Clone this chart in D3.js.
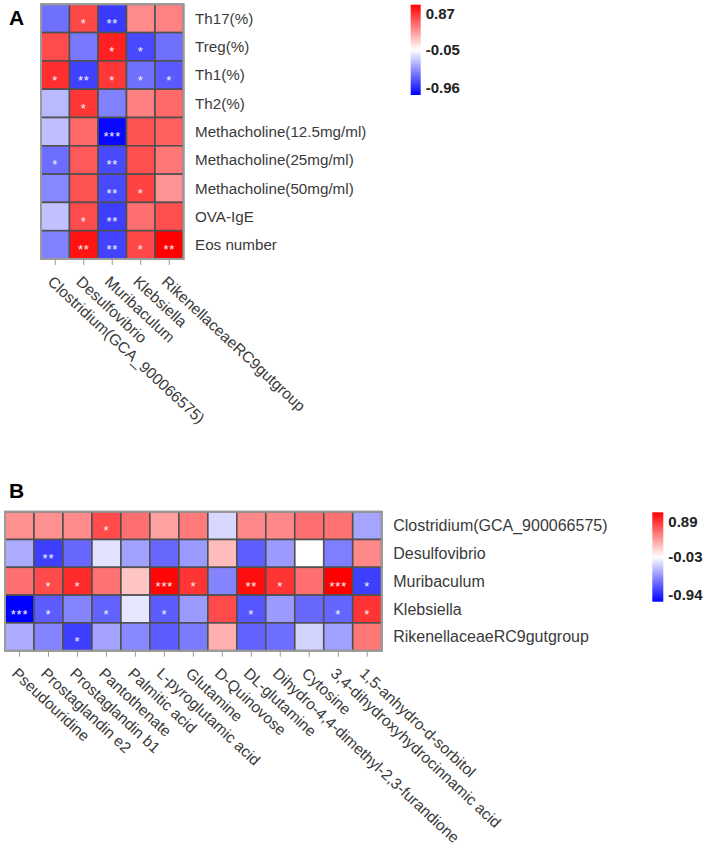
<!DOCTYPE html>
<html><head><meta charset="utf-8">
<script src="https://cdn.jsdelivr.net/npm/d3@7/dist/d3.min.js"></script>
<style>
body{margin:0;background:#fff}
svg{display:block}
text{font-family:"Liberation Sans",Arial,sans-serif}
</style>
</head><body>
<svg id="chart" width="706" height="851"></svg>
<script>
// ---------- Panel A data ----------
const aRows = ["Th17(%)","Treg(%)","Th1(%)","Th2(%)","Methacholine(12.5mg/ml)","Methacholine(25mg/ml)","Methacholine(50mg/ml)","OVA-IgE","Eos number"];
const aCols = ["Clostridium(GCA_900066575)","Desulfovibrio","Muribaculum","Klebsiella","RikenellaceaeRC9gutgroup"];
const aValues = [
  [-0.56, 0.61, -0.75, 0.37, 0.40],
  [ 0.60,-0.53,  0.75,-0.70,-0.56],
  [ 0.70,-0.73,  0.67,-0.56,-0.64],
  [-0.30, 0.67, -0.50, 0.41, 0.49],
  [-0.28, 0.49, -0.93, 0.57, 0.52],
  [-0.57, 0.55, -0.70, 0.59, 0.44],
  [-0.48, 0.57, -0.70, 0.63, 0.34],
  [-0.27, 0.60, -0.74, 0.47, 0.59],
  [-0.50, 0.80, -0.72, 0.61, 0.87]
];
const aStars = [
  ["","*","**","",""],
  ["","","*","*",""],
  ["*","**","*","*","*"],
  ["","*","","",""],
  ["","","***","",""],
  ["*","","**","",""],
  ["","","**","*",""],
  ["","*","**","",""],
  ["","**","**","*","**"]
];
const aScaleStops = [-0.96, -0.05, 0.87];
const aLegendLabels = ["0.87","-0.05","-0.96"];

// ---------- Panel B data ----------
const bRows = ["Clostridium(GCA_900066575)","Desulfovibrio","Muribaculum","Klebsiella","RikenellaceaeRC9gutgroup"];
const bCols = ["Pseudouridine","Prostaglandin e2","Prostaglandin b1","Pantothenate","Palmitic acid","L-pyroglutamic acid","Glutamine","D-Quinovose","DL-glutamine","Dihydro-4,4-dimethyl-2,3-furandione","Cytosine","3,4-dihydroxyhydrocinnamic acid","1,5-anhydro-d-sorbitol"];
const bValues = [
  [ 0.37, 0.37, 0.39, 0.62, 0.49, 0.31, 0.45,-0.17, 0.40, 0.40, 0.49, 0.48,-0.35],
  [-0.33,-0.72,-0.57,-0.13,-0.37,-0.57,-0.39, 0.21,-0.60,-0.39,-0.03,-0.49, 0.40],
  [ 0.49, 0.62, 0.74, 0.48, 0.18, 0.87, 0.70,-0.47, 0.84, 0.70, 0.49, 0.89,-0.72],
  [-0.94,-0.61,-0.47,-0.59,-0.12,-0.61,-0.39, 0.62,-0.63,-0.39,-0.57,-0.58, 0.70],
  [-0.33,-0.47,-0.72,-0.36,-0.45,-0.61,-0.50, 0.26,-0.59,-0.55,-0.19,-0.37, 0.46]
];
const bStars = [
  ["","","","*","","","","","","","","",""],
  ["","**","","","","","","","","","","",""],
  ["","*","*","","","***","*","","**","*","","***","*"],
  ["***","*","","*","","*","","","*","","","*","*"],
  ["","","*","","","","","","","","","",""]
];
const bScaleStops = [-0.94, -0.03, 0.89];
const bLegendLabels = ["0.89","-0.03","-0.94"];

const svg = d3.select("#chart");

function heatmap(cfg) {
  const g = svg.append("g");
  const x = d3.scaleBand().domain(cfg.cols).range([cfg.x0, cfg.x1]).padding(0);
  const y = d3.scaleBand().domain(cfg.rows).range([cfg.y0, cfg.y1]).padding(0);
  const color = d3.scaleLinear().domain(cfg.stops).range(["#0000ff","#ffffff","#ff0000"]).interpolate(d3.interpolateRgb).clamp(true);

  const cells = [];
  cfg.rows.forEach((r, i) => cfg.cols.forEach((c, j) => cells.push({r, c, v: cfg.values[i][j], s: cfg.stars[i][j]})));

  g.selectAll("rect.cell").data(cells).join("rect")
    .attr("class","cell")
    .attr("x", d => x(d.c)).attr("y", d => y(d.r))
    .attr("width", x.bandwidth()).attr("height", y.bandwidth())
    .attr("fill", d => color(d.v))
    .attr("stroke", "#505050").attr("stroke-width", 1.6);

  g.append("rect")
    .attr("x", cfg.x0).attr("y", cfg.y0)
    .attr("width", cfg.x1 - cfg.x0).attr("height", cfg.y1 - cfg.y0)
    .attr("fill","none").attr("stroke","#9a9a9a").attr("stroke-width",2);

  g.selectAll("text.star").data(cells.filter(d => d.s)).join("text")
    .attr("class","star")
    .attr("x", d => x(d.c) + x.bandwidth()/2)
    .attr("y", d => y(d.r) + y.bandwidth()/2 + 9.5)
    .attr("text-anchor","middle")
    .attr("font-size", 13)
    .attr("letter-spacing", 0.8)
    .attr("fill","#f4f4f4")
    .text(d => d.s);

  // row labels on right
  g.selectAll("text.rl").data(cfg.rows).join("text")
    .attr("class","rl")
    .attr("x", cfg.x1 + cfg.rowGap)
    .attr("y", d => y(d) + y.bandwidth()/2)
    .attr("dy","0.35em")
    .attr("font-size", cfg.rowFont)
    .attr("fill","#3a3a3a")
    .text(d => d);

  // bottom ticks
  g.selectAll("line.tk").data(cfg.cols).join("line")
    .attr("class","tk")
    .attr("x1", d => x(d) + x.bandwidth()/2).attr("x2", d => x(d) + x.bandwidth()/2)
    .attr("y1", cfg.y1 + 1).attr("y2", cfg.y1 + 6)
    .attr("stroke","#999").attr("stroke-width",1);

  g.selectAll("text.cl").data(cfg.cols).join("text")
    .attr("class","cl")
    .attr("transform", d => `translate(${x(d) + x.bandwidth()/2 - 8.5},${cfg.y1 + 24}) rotate(43)`)
    .attr("font-size", cfg.colFont)
    .attr("fill","#3a3a3a")
    .text(d => d);

  // legend
  const gid = "grad" + cfg.id;
  const grad = svg.append("defs").append("linearGradient")
    .attr("id", gid).attr("x1","0").attr("y1","1").attr("x2","0").attr("y2","0");
  grad.selectAll("stop").data([0, 0.5, 1]).join("stop")
    .attr("offset", d => d)
    .attr("stop-color", (d, i) => ["#0000ff","#ffffff","#ff0000"][i]);
  const ly = d3.scaleLinear().domain([cfg.stops[0], cfg.stops[2]]).range([cfg.ly1, cfg.ly0]);
  g.append("rect")
    .attr("x", cfg.lx).attr("y", cfg.ly0)
    .attr("width", cfg.lw).attr("height", cfg.ly1 - cfg.ly0)
    .attr("fill", `url(#${gid})`);
  const legendPos = [ly(cfg.stops[2]) + 9, (cfg.ly0 + cfg.ly1)/2, ly(cfg.stops[0]) - 7];
  g.selectAll("text.lg").data(cfg.legendLabels).join("text")
    .attr("class","lg")
    .attr("x", cfg.lx + cfg.lw + 5)
    .attr("y", (d, i) => legendPos[i])
    .attr("dy","0.35em")
    .attr("font-size", 15).attr("font-weight","bold")
    .attr("fill","#222")
    .text(d => d);

  svg.append("text")
    .attr("x", cfg.labelX).attr("y", cfg.labelY)
    .attr("font-size", 21).attr("font-weight","bold").attr("fill","#000")
    .text(cfg.panel);
}

heatmap({
  id:"A", panel:"A", labelX:9, labelY:25,
  rows:aRows, cols:aCols, values:aValues, stars:aStars, stops:aScaleStops, legendLabels:aLegendLabels,
  x0:41, x1:183.5, y0:4.3, y1:259,
  rowGap:11.5, rowFont:15.2, colFont:15.5,
  lx:410.7, lw:10, ly0:4.7, ly1:95
});

heatmap({
  id:"B", panel:"B", labelX:9, labelY:498,
  rows:bRows, cols:bCols, values:bValues, stars:bStars, stops:bScaleStops, legendLabels:bLegendLabels,
  x0:5, x1:381.7, y0:511.7, y1:650.7,
  rowGap:11.5, rowFont:16, colFont:15.5,
  lx:652.3, lw:11, ly0:512.3, ly1:601.7
});
</script>
</body></html>
